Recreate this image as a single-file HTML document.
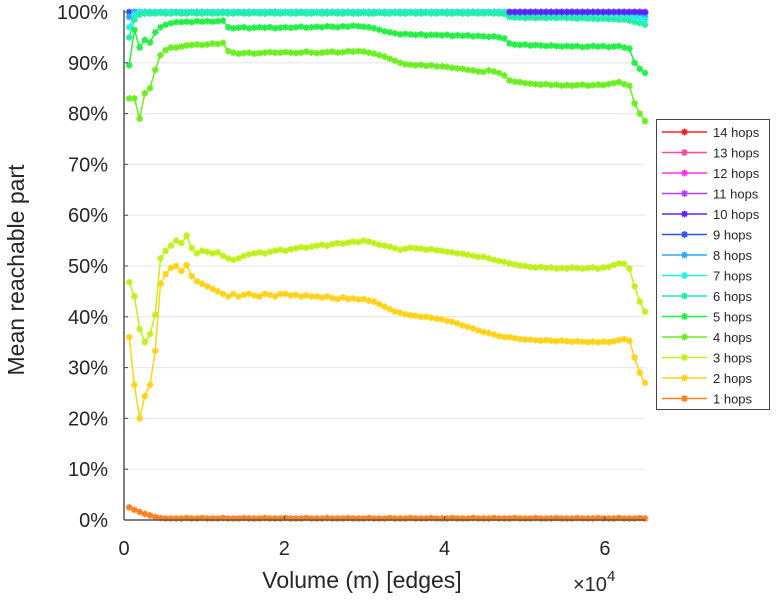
<!DOCTYPE html>
<html><head><meta charset="utf-8"><style>
body{margin:0;background:#fff;}
svg{display:block;font-family:"Liberation Sans",sans-serif;}
</style></head><body>
<svg id="chart" width="781" height="600" viewBox="0 0 781 600" xmlns="http://www.w3.org/2000/svg">
<g id="grid"></g>
<g id="series"></g>
<g id="axes"></g>
<text x="0" y="0" transform="translate(24,270) rotate(-90)" text-anchor="middle" font-size="23" fill="#262626">Mean reachable part</text>
<text x="362" y="588" text-anchor="middle" font-size="23" fill="#262626">Volume (m) [edges]</text>
<text x="573" y="591" font-size="20" fill="#262626">×10<tspan dy="-10" font-size="15">4</tspan></text>
<g id="legend"></g>
</svg>
<script>
const yTicks=[0,10,20,30,40,50,60,70,80,90,100];
const xTicks=[0,2,4,6];
const seriesNames=["1 hops","2 hops","3 hops","4 hops","5 hops","6 hops","7 hops","8 hops","9 hops","10 hops","11 hops","12 hops","13 hops","14 hops"];
const seriesColors=["#ff7f1f","#ffd21a","#c0f01a","#6aee20","#22ee44","#22eeaa","#22eeee","#30a8ff","#3050ff","#6020ff","#b040ff","#ff30f0","#ff4aa0","#ff2020"];
const xStart=650, xStep=650;
const s1=[2.5,2,1.6,1.2,0.9,0.6,0.4,0.3,0.3,0.3,0.3,0.4,0.3,0.3,0.4,0.3,0.3,0.3,0.4,0.3,0.3,0.3,0.4,0.3,0.3,0.3,0.4,0.3,0.3,0.3,0.4,0.3,0.3,0.3,0.4,0.3,0.3,0.3,0.4,0.3,0.3,0.3,0.4,0.3,0.3,0.3,0.4,0.3,0.3,0.3,0.4,0.3,0.3,0.3,0.4,0.3,0.3,0.3,0.4,0.3,0.3,0.3,0.4,0.3,0.3,0.3,0.4,0.3,0.3,0.3,0.4,0.3,0.3,0.3,0.4,0.3,0.3,0.3,0.4,0.3,0.3,0.3,0.4,0.3,0.3,0.3,0.4,0.3,0.3,0.3,0.4,0.3,0.3,0.3,0.4,0.3,0.3,0.3,0.4,0.3];
const s2=[36,26.6,20,24.4,26.6,33.3,46.5,48.4,49.6,50,49,50.2,48,47,46.5,46,45.5,45,44.5,44,44.5,44,44.3,44.5,44.2,44,44.5,44.3,44,44.5,44.5,44.2,44.3,44,44.2,44,44,43.8,44,43.7,43.5,43.8,43.5,43.6,43.4,43.5,43.2,43,42.5,42,41.5,41,40.8,40.5,40.3,40.2,40,40,39.8,39.6,39.5,39.2,39,38.7,38.3,38,37.7,37.3,37,36.8,36.5,36.2,36,36,35.8,35.6,35.5,35.5,35.4,35.3,35.4,35.3,35.2,35.3,35.2,35.1,35.2,35.1,35,35.1,35,35.1,35,35.2,35.4,35.6,35.3,32,29,27];
const s3=[46.8,44,37.6,35,36.6,40.4,51.5,53,54,55,54.5,56,53.5,52.5,53,52.8,52.5,52.7,52,51.5,51.2,51.5,52,52.3,52.5,52.7,52.5,52.8,53,53.2,53,53.3,53.5,53.7,53.6,53.8,54,54.2,54,54.3,54.5,54.4,54.6,54.8,54.7,55,54.8,54.5,54.2,54,53.8,53.5,53.2,53.4,53.6,53.5,53.4,53.2,53.3,53.1,53,52.8,52.7,52.5,52.4,52.2,52,51.8,51.8,51.5,51.2,51,50.8,50.5,50.3,50.1,50,49.8,49.7,49.8,49.6,49.7,49.5,49.6,49.5,49.7,49.6,49.5,49.6,49.7,49.5,49.7,49.8,50.2,50.5,50.4,49.5,46,43,41];
const s4=[83,83,79,84,85,88.6,91.5,92.5,93,93,93.2,93.4,93.5,93.6,93.5,93.6,93.8,93.7,93.9,92.3,92,91.8,91.9,92,91.8,91.9,92,92.1,92,92,92.1,92,91.9,92,92.2,92,91.9,92,92.1,92.2,92,92.1,92.3,92.2,92.3,92.2,92,91.8,91.5,91.2,90.8,90.4,90,89.7,89.6,89.5,89.6,89.4,89.5,89.3,89.3,89.2,89,88.9,88.8,88.6,88.5,88.3,88.2,88.5,88.3,88,87.5,86.5,86.3,86.2,86,85.9,85.8,85.7,85.8,85.6,85.7,85.5,85.6,85.5,85.6,85.7,85.5,85.6,85.7,85.6,85.8,86,86.2,85.8,85.5,82,80,78.5];
const s5=[89.5,96.5,93,94.5,94,96,97,97.5,97.8,98,98,98.1,98,98.2,98.1,98.2,98.1,98.2,98.3,97,96.8,96.9,97,96.8,96.9,97,96.9,97,96.8,96.9,97,96.9,97,97.1,96.9,97,97.1,97,97.2,97.1,97,97.2,97.1,97.3,97.2,97.1,97,96.8,96.5,96.2,96,95.8,95.6,95.7,95.6,95.5,95.6,95.4,95.5,95.5,95.4,95.5,95.3,95.4,95.3,95.4,95.2,95.3,95.2,95.1,95.2,95,94.8,93.8,93.6,93.5,93.6,93.4,93.5,93.4,93.3,93.4,93.3,93.2,93.3,93.2,93.3,93.1,93.2,93.3,93.2,93.3,93.1,93.2,93.3,93,92.8,90,88.8,88];
const s6=[95,98.5,99.5,99.7,99.7,99.7,99.8,99.7,99.7,99.8,99.7,99.7,99.8,99.7,99.7,99.8,99.7,99.7,99.8,99.7,99.7,99.8,99.7,99.7,99.8,99.7,99.7,99.8,99.7,99.7,99.8,99.7,99.7,99.8,99.7,99.7,99.8,99.7,99.7,99.8,99.7,99.7,99.8,99.7,99.7,99.8,99.7,99.7,99.8,99.7,99.7,99.8,99.7,99.7,99.8,99.7,99.7,99.8,99.7,99.7,99.8,99.7,99.7,99.8,99.7,99.7,99.8,99.7,99.7,99.8,99.7,99.7,99.6,99,98.9,98.9,98.8,98.9,98.8,98.9,98.8,98.9,98.8,98.9,98.8,98.8,98.7,98.8,98.7,98.7,98.6,98.7,98.6,98.6,98.5,98.5,98.3,98,97.8,97.5];
const s7=[97,99.5,100,100,100,100,100,100,100,100,100,100,100,100,100,100,100,100,100,100,100,100,100,100,100,100,100,100,100,100,100,100,100,100,100,100,100,100,100,100,100,100,100,100,100,100,100,100,100,100,100,100,100,100,100,100,100,100,100,100,100,100,100,100,100,100,100,100,100,100,100,100,100,99.6,99.6,99.6,99.6,99.6,99.6,99.6,99.6,99.6,99.6,99.6,99.6,99.6,99.6,99.6,99.6,99.6,99.6,99.6,99.6,99.6,99.5,99.5,99.3,99,98.8,98.5];
const s8=[99,100,100,100,100,100,100,100,100,100,100,100,100,100,100,100,100,100,100,100,100,100,100,100,100,100,100,100,100,100,100,100,100,100,100,100,100,100,100,100,100,100,100,100,100,100,100,100,100,100,100,100,100,100,100,100,100,100,100,100,100,100,100,100,100,100,100,100,100,100,100,100,100,100,100,100,100,100,100,100,100,100,100,100,100,100,100,100,100,100,100,100,100,100,100,99.8,99.6,99.5,99.3,99];
const s9=[100,100,100,100,100,100,100,100,100,100,100,100,100,100,100,100,100,100,100,100,100,100,100,100,100,100,100,100,100,100,100,100,100,100,100,100,100,100,100,100,100,100,100,100,100,100,100,100,100,100,100,100,100,100,100,100,100,100,100,100,100,100,100,100,100,100,100,100,100,100,100,100,100,100,100,100,100,100,100,100,100,100,100,100,100,100,100,100,100,100,100,100,100,100,100,100,100,100,100,99.8];
const s10Start=74;
const s10=[100,100,100,100,100,100,100,100,100,100,100,100,100,100,100,100,100,100,100,100,100,100,100,100,100,100,100];
const allSeries=[s1,s2,s3,s4,s5,s6,s7,s8,s9,s10];
const seriesStart=[1,1,1,1,1,1,1,1,1,s10Start];
const drawOrder=[8,7,6,5,9,0,1,2,3,4];

const L=124,R=645,T=12,B=520;
const xScale=v=>L+v/65000*(R-L);
const yScale=v=>B-v/100*(B-T);
const NS="http://www.w3.org/2000/svg";
function mk(tag,attrs,parent){const e=document.createElementNS(NS,tag);for(const k in attrs)e.setAttribute(k,attrs[k]);parent.appendChild(e);return e;}
const grid=document.getElementById('grid'),axes=document.getElementById('axes'),sg=document.getElementById('series'),lg=document.getElementById('legend');
yTicks.forEach(t=>{
  const y=yScale(t);
  if(t>0&&t<100){const g=mk('line',{x1:L,x2:R,y1:y,y2:y,stroke:'#e6e6e6','stroke-width':1},grid);
  
  }
  const tk=mk('line',{x1:L,x2:L+4,y1:y,y2:y,stroke:'#444','stroke-width':1},axes);
  
  
  const lb=mk('text',{x:108,y:y+7,'text-anchor':'end','font-size':20,fill:'#262626'},axes);
  lb.textContent=t+'%';
  
  
});
xTicks.forEach(t=>{
  const x=xScale(t*10000);
  const tk=mk('line',{x1:x,x2:x,y1:B,y2:B-4,stroke:'#444','stroke-width':1},axes);
  
  
  const lb=mk('text',{x:x,y:555,'text-anchor':'middle','font-size':20,fill:'#262626'},axes);
  lb.textContent=t;
  
  
});
const ya=mk('line',{x1:L,x2:L,y1:T-2,y2:B,stroke:'#555','stroke-width':1.5},axes);


const xa=mk('line',{x1:L,x2:R,y1:B,y2:B,stroke:'#555','stroke-width':1.5},axes);



function star(x,y,c,parent,r,w){
  let d='';
  for(let a=0;a<4;a++){const an=a*Math.PI/4;const dx=r*Math.cos(an),dy=r*Math.sin(an);d+=`M${x-dx},${y-dy}L${x+dx},${y+dy}`;}
  return mk('path',{d:d,stroke:c,'stroke-width':w,fill:'none'},parent);
}
drawOrder.forEach(i=>{
  const vals=allSeries[i];
  const g=mk('g',{},sg);
  
  
  const pts=vals.map((v,j)=>[xScale(xStart+xStep*(seriesStart[i]-1+j)),yScale(v)]);
  const pl=mk('polyline',{points:pts.map(p=>p.join(',')).join(' '),fill:'none',stroke:seriesColors[i],'stroke-width':1.5},g);
  
  
  pts.forEach(p=>{const m=star(p[0],p[1],seriesColors[i],g,3.4,1.6);
    
    });
});
// legend
const box=mk('rect',{x:656.5,y:119.5,width:113,height:290,fill:'#fff',stroke:'#444','stroke-width':1},lg);


for(let k=0;k<14;k++){
  const i=13-k;const y=132+k*20.5;
  const g=mk('g',{},lg);
  
  
  mk('line',{x1:662,x2:707,y1:y,y2:y,stroke:seriesColors[i],'stroke-width':1.5},g);
  star(684.5,y,seriesColors[i],g,3.5,1.6);
  const t=mk('text',{x:713,y:y+5,'font-size':13,fill:'#262626'},g);
  t.textContent=seriesNames[i];
}
</script>
</body></html>
